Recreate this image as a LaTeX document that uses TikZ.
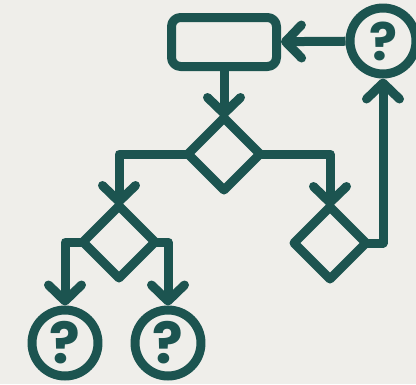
\documentclass[tikz,border=0pt]{standalone}
\usepackage{fontspec}
\newfontfamily\qfont{Poppins}
\usetikzlibrary{shapes.geometric,arrows.meta}
\definecolor{teal1}{RGB}{28,84,80}
\definecolor{bgc}{RGB}{239,238,234}
\tikzset{
  base/.style={draw=teal1, line width=9pt, line join=round},
  rectbox/.style={base, rectangle, rounded corners=9pt, minimum width=105pt, minimum height=49pt, inner sep=0pt},
  decision/.style={base, diamond, aspect=1, minimum width=72pt, minimum height=72pt, inner sep=0pt, outer sep=0pt},
  qcircle/.style={base, circle, minimum size=66pt, inner sep=0pt, text=teal1, font=\qfont\bfseries\fontsize{57}{57}\selectfont},
  conn/.style={draw=teal1, line width=9pt, line join=round, -{Straight Barb[length=16pt,width=33pt,line cap=round,line join=round]}}
}
\begin{document}
\begin{tikzpicture}[x=1pt,y=-1pt]
\fill[bgc] (0,0) rectangle (416,384);
\useasboundingbox (0,0) rectangle (416,384);
\node[rectbox] (r) at (224,42) {};
\node[qcircle, font=\qfont\bfseries\fontsize{52}{52}\selectfont] (q0) at (383,41) {?};
\node[decision] (d0) at (224,154) {};
\node[decision] (d1) at (119,242) {};
\node[decision] (d2) at (330,243) {};
\node[qcircle] (q1) at (65,343) {?};
\node[qcircle] (q2) at (168,343) {?};
\draw[conn] (q0) -- (r);
\draw[conn] (r) -- (d0.north);
\draw[conn] (d0.west) -| (d1.north);
\draw[conn] (d0.east) -| (d2.north);
\draw[conn] (d1.west) -| (q1.north);
\draw[conn] (d1.east) -| (q2.north);
\draw[conn] (d2.east) -| (q0.south);
\end{tikzpicture}
\end{document}
